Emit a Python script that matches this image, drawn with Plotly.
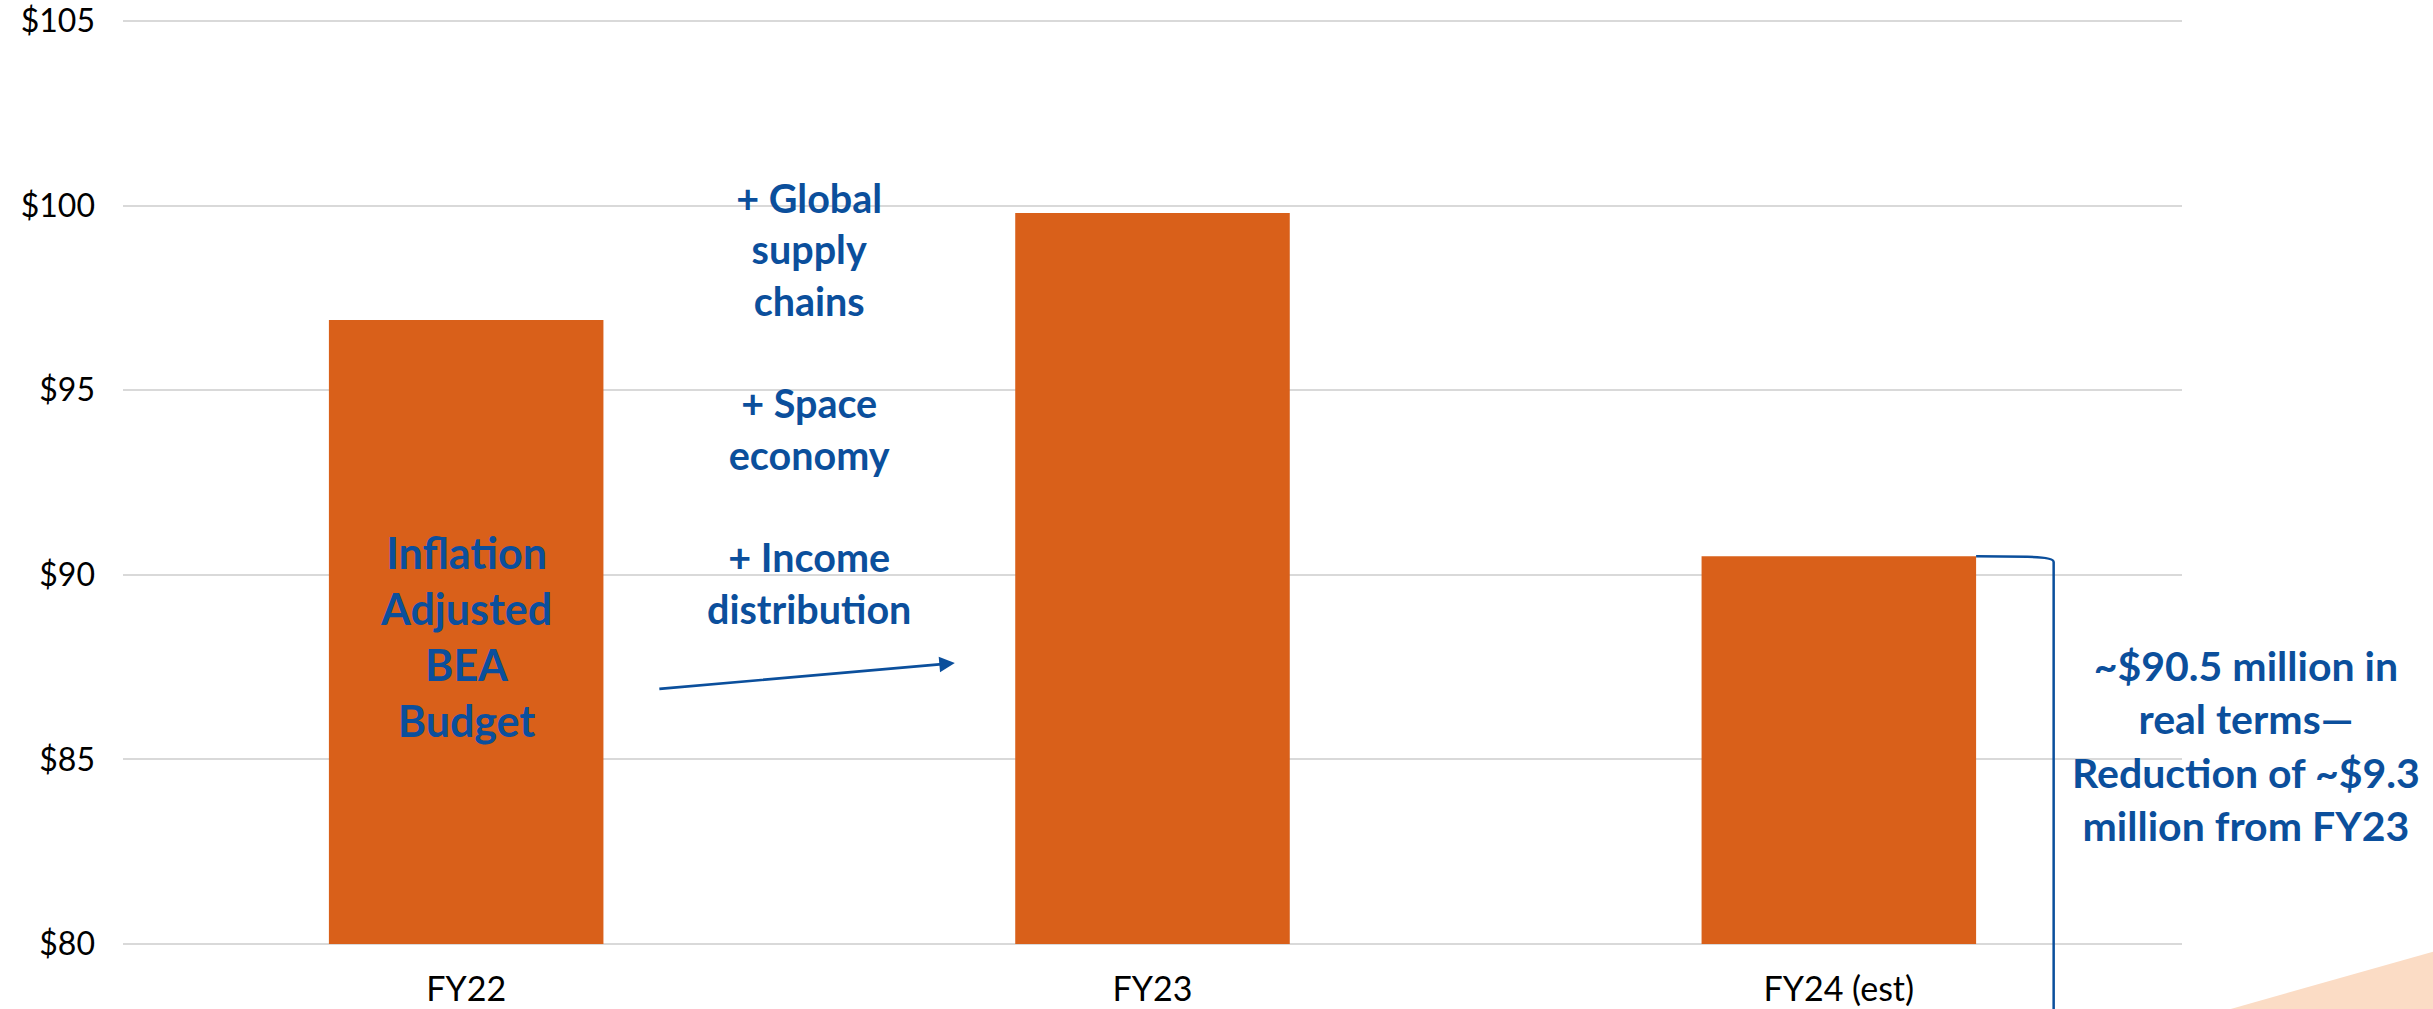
import plotly.graph_objects as go

# ---- data ----
categories = ["FY22", "FY23", "FY24 (est)"]
budget_values = [96.9, 99.8, 90.5]
tick_values = [80, 85, 90, 95, 100, 105]
tick_labels = ["$80", "$85", "$90", "$95", "$100", "$105"]
bar_note = "Inflation<br>Adjusted<br>BEA<br>Budget"
mid_note = "+ Global<br>supply<br>chains<br><br>+ Space<br>economy<br><br>+ Income<br>distribution"
right_note = "~$90.5 million in<br>real terms\u2014<br>Reduction of ~$9.3<br>million from FY23"

BAR_COLOR = "#D9601A"
BLUE = "#0B4F9C"
GRID = "#D9D9D9"
FONT = "Lato"

W, H = 2433, 1009
ML, MR, MT, MB = 123, 251, 21, 65
Y0, Y1 = 80, 105
n = len(categories)


def px_x(xdata):
    # category data coordinate -> paper
    return (xdata + 0.5) / n


def py(yval):
    return (yval - Y0) / (Y1 - Y0)


fig = go.Figure()
fig.add_trace(go.Bar(
    x=categories, y=budget_values,
    marker=dict(color=BAR_COLOR, line=dict(width=0)),
    hoverinfo="skip",
))

bar_half = 0.2
shapes = []
# edge gridlines at $80 and $105 (plotly omits grid at the range ends)
for yv in (Y0, Y1):
    shapes.append(dict(type="line", xref="paper", yref="paper", x0=0, x1=1,
                       y0=py(yv), y1=py(yv), line=dict(color=GRID, width=2), layer="below"))
# bracket from FY24 bar top
bx0 = px_x(2 + bar_half)
bxc = px_x(2.313)
by0 = py(budget_values[2])
shapes.append(dict(
    type="path", xref="paper", yref="paper",
    path=f"M {bx0},{by0} L {bx0 + 0.025},{by0 - 0.0005} Q {bxc},{by0 - 0.001} {bxc},{by0 - 0.006} L {bxc},-0.2",
    line=dict(color=BLUE, width=2.5),
))
# decorative peach triangle bottom right
shapes.append(dict(
    type="path", xref="paper", yref="paper",
    path="M 1.0085,-0.08 L 1.14,0.003 L 1.14,-0.08 Z",
    fillcolor="#FBDCC5", line=dict(width=0), layer="below",
))

annotations = [
    dict(x=0, y=88.32, xref="x", yref="y", text=f"<b>{bar_note}</b>", showarrow=False,
         font=dict(family=FONT, size=43, color=BLUE), align="center",
         xanchor="center", yanchor="middle"),
    dict(x=0.5, y=94.65, xref="x", yref="y", text=f"<b>{mid_note}</b>", showarrow=False,
         font=dict(family=FONT, size=39.5, color=BLUE), align="center",
         xanchor="center", yanchor="middle"),
    dict(x=1.031, y=85.39, xref="paper", yref="y", text=f"<b>{right_note}</b>", showarrow=False,
         font=dict(family=FONT, size=41, color=BLUE), align="center",
         xanchor="center", yanchor="middle"),
    dict(x=0.712, y=87.61, xref="x", yref="y", ax=-297, ay=26, text="", showarrow=True,
         arrowcolor=BLUE, arrowwidth=2.7, arrowhead=2, arrowsize=1.15, standoff=0),
]

fig.update_layout(
    width=W, height=H,
    margin=dict(l=ML, r=MR, t=MT, b=MB),
    paper_bgcolor="white", plot_bgcolor="white",
    bargap=0.6,
    showlegend=False,
    shapes=shapes,
    annotations=annotations,
    font=dict(family=FONT, color="#000000"),
)
fig.update_xaxes(
    showgrid=False, showline=False, zeroline=False, ticks="",
    tickfont=dict(family=FONT, size=34, color="#000000"),
    ticklabelstandoff=22, automargin=False, ticklabeloverflow="allow",
)
fig.update_yaxes(
    range=[Y0, Y1], tickvals=tick_values, ticktext=tick_labels,
    showgrid=True, gridcolor=GRID, gridwidth=2,
    zeroline=False, showline=False, ticks="",
    tickfont=dict(family=FONT, size=32, color="#000000"),
    ticklabelstandoff=27, automargin=False, ticklabeloverflow="allow",
)

fig.write_html("out.html", config={"displayModeBar": False},
               post_script="document.body.style.margin='0';document.body.style.overflow='hidden';")
